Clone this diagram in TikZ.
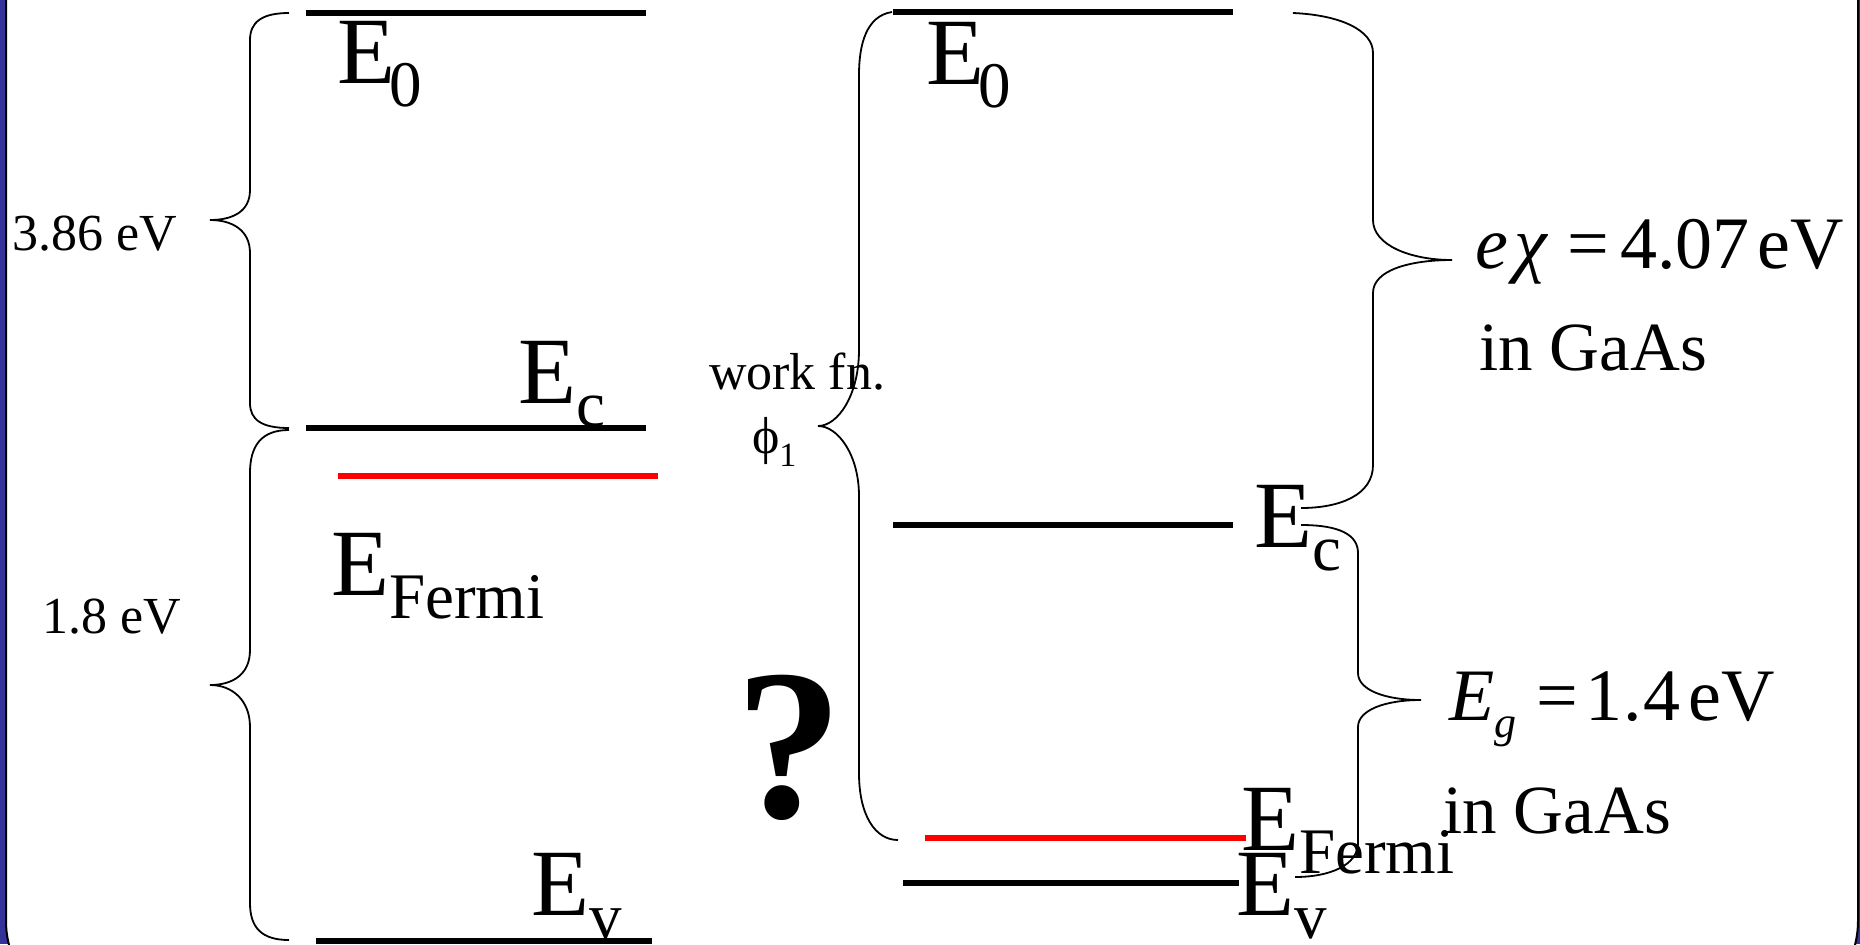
\documentclass[tikz,border=0pt]{standalone}
\usepackage{fontspec}
\setmainfont{Liberation Serif}
\definecolor{frameblue}{RGB}{51,51,153}
\newcommand\bigsz{\fontsize{47.5pt}{50pt}\selectfont}
\newcommand\subsz{\fontsize{32.5pt}{34pt}\selectfont}
\newcommand\medsz{\fontsize{26pt}{28pt}\selectfont}
\newcommand\rsz{\fontsize{34.5pt}{36pt}\selectfont}
\newcommand\eqsz{\fontsize{37pt}{39pt}\selectfont}
\newcommand\lvlsub[1]{\raisebox{-11.5pt}{\subsz #1}}
\begin{document}
\begin{tikzpicture}[x=0.5pt,y=-0.5pt,
  lvl/.style={line width=2.8pt},
  fermi/.style={line width=2.6pt,red},
  brace/.style={line width=0.9pt},
  lab/.style={inner sep=0pt,outer sep=0pt,anchor=base west},
  biglab/.style={lab,font=\bigsz},
  medlab/.style={lab,font=\medsz},
  rlab/.style={lab,font=\rsz},
  eqlab/.style={lab,font=\eqsz}]
\useasboundingbox (0,0) rectangle (1860,944);
% frame
\fill[frameblue] (0,0) rectangle (1860,944);
\draw[fill=white,line width=1pt,rounded corners=48pt] (6,-120) rectangle (1858,1017);

% ---------- left diagram ----------
\draw[lvl] (306,13) -- (646,13);
\draw[lvl] (306,428) -- (646,428);
\draw[fermi] (338,476) -- (658,476);
\draw[lvl] (316,941) -- (652,941);

\node[biglab] (e0L) at (337,83) {E\kern-3pt\lvlsub{0}};
\node[biglab] (ecL) at (518,403) {E\lvlsub{c}};
\node[biglab] (efL) at (331,595) {E\lvlsub{Fermi}};
\node[biglab] (evL) at (531,915) {E\lvlsub{v}};

% left braces
\draw[brace] (289,13) .. controls (262,13) and (250,22) .. (250,40)
  -- (250,190) .. controls (250,212) and (232,220) .. (210,220)
  .. controls (232,220) and (250,230) .. (250,253)
  -- (250,403) .. controls (250,420) and (262,428) .. (289,428);
\draw[brace] (289,430) .. controls (262,430) and (250,445) .. (250,473)
  -- (250,650) .. controls (250,675) and (232,685) .. (210,685)
  .. controls (232,685) and (250,700) .. (250,727)
  -- (250,903) .. controls (250,928) and (262,940) .. (289,940);

\node[medlab] (t386) at (12,250) {3.86 eV};
\node[medlab] (t18) at (42,633) {1.8 eV};

% ---------- middle ----------
\node[medlab] (wf) at (709,389) {work fn.};
\node[medlab] (phi) at (752,453) {ϕ\raisebox{-6.5pt}{\fontsize{17pt}{18pt}\selectfont 1}};
\node[lab,font=\fontsize{107.5pt}{110pt}\selectfont\bfseries] (q) at (735,817) {?};

\draw[brace] (892,12) .. controls (866,16) and (859,45) .. (859,75)
  -- (859,350) .. controls (859,395) and (838,426) .. (818,426)
  .. controls (838,426) and (859,455) .. (859,496)
  -- (859,773) .. controls (859,815) and (875,840) .. (898,840);

% ---------- right diagram ----------
\draw[lvl] (893,12) -- (1233,12);
\draw[lvl] (893,525) -- (1233,525);
\draw[fermi] (925,838) -- (1246,838);
\draw[lvl] (903,883) -- (1239,883);

\node[biglab] (e0R) at (926,84) {E\kern-3pt\lvlsub{0}};
\node[biglab] (ecR) at (1254,547) {E\lvlsub{c}};
\node[biglab] (efR) at (1241,850) {E\lvlsub{Fermi}};
\node[biglab] (evR) at (1236,915) {E\lvlsub{v}};

% right braces
\draw[brace] (1293,13) .. controls (1340,15) and (1373,30) .. (1373,53)
  -- (1373,220) .. controls (1373,245) and (1410,260) .. (1452,260)
  .. controls (1410,260) and (1373,270) .. (1373,293)
  -- (1373,465) .. controls (1373,495) and (1340,508) .. (1301,508);
\draw[brace] (1301,525) .. controls (1340,525) and (1358,535) .. (1358,553)
  -- (1358,673) .. controls (1358,690) and (1385,700) .. (1421,700)
  .. controls (1385,700) and (1358,710) .. (1358,727)
  -- (1358,843) .. controls (1358,865) and (1330,877) .. (1295,877);

\node[eqlab] (chi) at (1475,268) {{\itshape e\kern3.5pt χ}\kern10pt=\kern5.5pt4.07\kern4pt eV};
\node[rlab] (gaas1) at (1479,370) {in GaAs};
\node[eqlab] (eg) at (1449,720) {{\itshape E}\raisebox{-8.5pt}{\fontsize{22pt}{23pt}\selectfont\itshape g}\kern10pt=\kern4pt1\kern0.5pt.\kern0.5pt4\kern4pt eV};
\node[rlab] (gaas2) at (1443,833) {in GaAs};
\end{tikzpicture}
\end{document}
